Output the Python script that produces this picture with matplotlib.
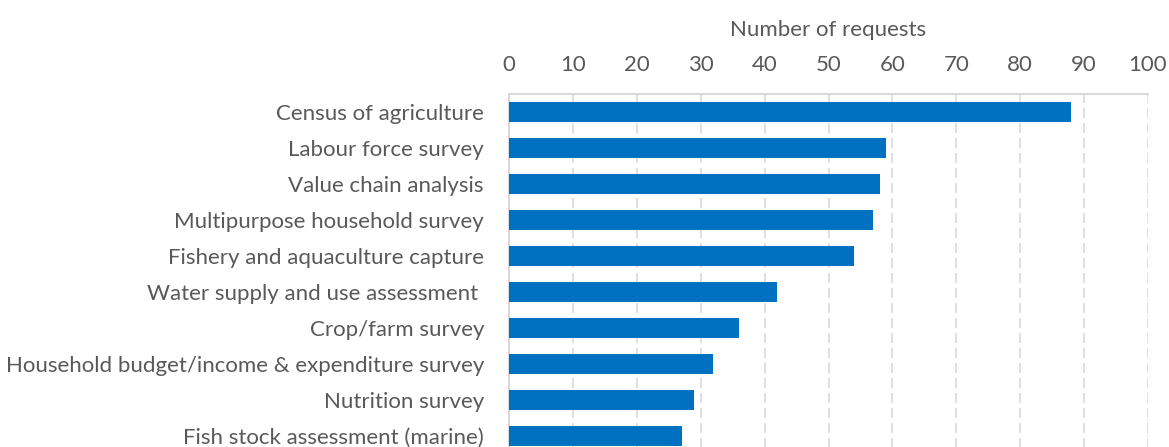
import matplotlib.pyplot as plt

# data
categories = ['Census of agriculture', 'Labour force survey', 'Value chain analysis',
              'Multipurpose household survey', 'Fishery and aquaculture capture',
              'Water supply and use assessment ', 'Crop/farm survey',
              'Household budget/income & expenditure survey', 'Nutrition survey',
              'Fish stock assessment (marine)']
requests = [88, 59, 58, 57, 54, 42, 36, 32, 29, 27]
x_ticks = [0, 10, 20, 30, 40, 50, 60, 70, 80, 90, 100]

plt.rcParams['font.family'] = ['Lato', 'DejaVu Sans']
txt = '#595959'
grid_c = '#D9D9D9'

fig = plt.figure(figsize=(11.69, 4.47), dpi=100)
# axes runs past the bottom edge like the cropped original
ax = fig.add_axes([509 / 1169, 1 - 454 / 447, 639 / 1169, 360 / 447])

ypos = list(range(len(categories)))
ax.barh(ypos, requests, height=0.57, color='#0070C0', zorder=3)

ax.set_ylim(len(categories) - 0.5, -0.5)
ax.set_xlim(0, 100)
ax.set_yticks(ypos)
ax.set_yticklabels(categories)
ax.set_xticks(x_ticks)

ax.xaxis.tick_top()
ax.tick_params(axis='x', length=0, pad=14, labelsize=16, labelcolor=txt)
ax.tick_params(axis='y', length=0, pad=18, labelsize=16, labelcolor=txt)

ax.set_xlabel('Number of requests', fontsize=16, color=txt)
ax.xaxis.set_label_position('top')
ax.xaxis.set_label_coords(0.5, (454 - 30) / 360)
ax.xaxis.label.set_va('center')

ax.grid(axis='x', color=grid_c, linewidth=1.2, linestyle=(0, (6, 3)), zorder=0)
for s in ['right', 'bottom']:
    ax.spines[s].set_visible(False)
for s in ['top', 'left']:
    ax.spines[s].set_color(grid_c)
    ax.spines[s].set_linewidth(1.5)

fig.savefig('out.png', dpi=100)
